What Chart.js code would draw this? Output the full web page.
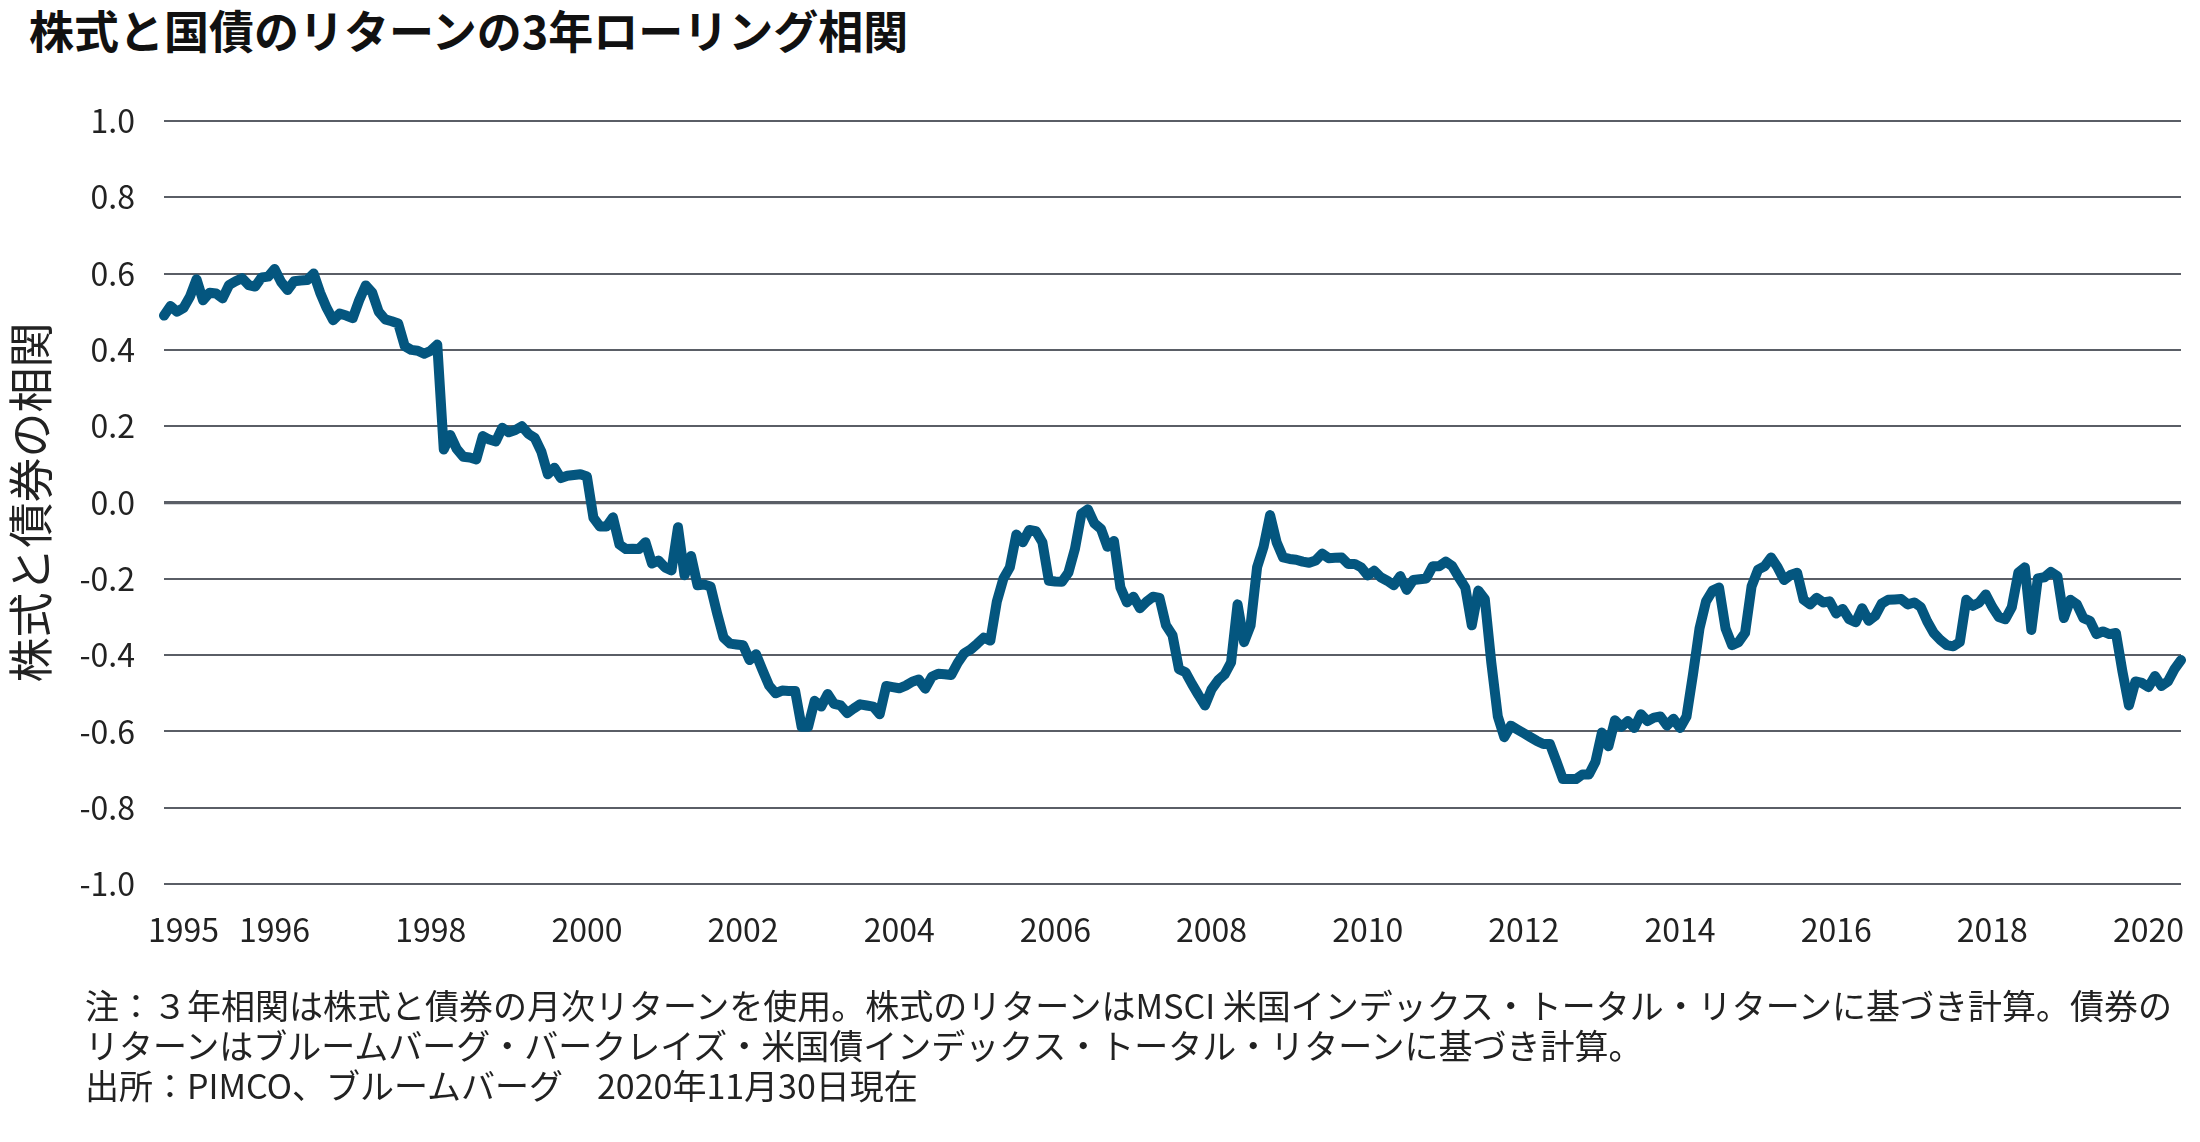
<!DOCTYPE html>
<html lang="ja">
<head>
<meta charset="utf-8">
<title>株式と国債のリターンの3年ローリング相関</title>
<script src="https://cdn.jsdelivr.net/npm/chart.js@4.4.1/dist/chart.umd.min.js"></script>
<style>
  html, body { margin: 0; padding: 0; background: #fff; }
  body { width: 2200px; height: 1142px; position: relative; overflow: hidden; font-family: "Noto Sans CJK JP", "Noto Sans", sans-serif; color: #222; }
  #title { position: absolute; left: 29px; top: 6px; font-size: 45px; font-weight: 700; line-height: 47px; color: #111; white-space: nowrap; }
  #wrap { position: absolute; left: 0; top: 0; width: 2200px; height: 1000px; }
  #notes { position: absolute; left: 85px; top: 985px; font-size: 34px; line-height: 40px; white-space: nowrap; color: #222; }
</style>
</head>
<body>
<div id="title">株式と国債のリターンの3年ローリング相関</div>
<div id="wrap"><canvas id="chart" width="2200" height="1000"></canvas></div>
<div id="notes">
  <div>注：３年相関は株式と債券の月次リターンを使用。株式のリターンはMSCI 米国インデックス・トータル・リターンに基づき計算。債券の</div>
  <div>リターンはブルームバーグ・バークレイズ・米国債インデックス・トータル・リターンに基づき計算。</div>
  <div>出所：PIMCO、ブルームバーグ　2020年11月30日現在</div>
</div>
<script>
// 3年ローリング相関（月次、1995年1月〜2020年11月）
const startYear = 1995;
const tickYears = ['1995','1996','1998','2000','2002','2004','2006','2008','2010','2012','2014','2016','2018','2020'];
const yTitle = '株式と債券の相関';

const corr = [
  // 1995
  0.49, 0.515, 0.50, 0.51, 0.54, 0.585, 0.53, 0.55, 0.548, 0.535, 0.57, 0.58,
  // 1996
  0.588, 0.57, 0.566, 0.59, 0.592, 0.612, 0.578, 0.557, 0.58, 0.582, 0.583, 0.60,
  // 1997
  0.55, 0.51, 0.478, 0.495, 0.49, 0.483, 0.53, 0.569, 0.55, 0.50, 0.48, 0.475,
  // 1998
  0.469, 0.41, 0.40, 0.398, 0.39, 0.398, 0.414, 0.139, 0.177, 0.14, 0.12, 0.118,
  // 1999
  0.113, 0.174, 0.165, 0.16, 0.196, 0.184, 0.19, 0.2, 0.18, 0.169, 0.133, 0.074,
  // 2000
  0.091, 0.064, 0.07, 0.072, 0.074, 0.068, -0.04, -0.063, -0.063, -0.039, -0.11, -0.122,
  // 2001
  -0.121, -0.122, -0.104, -0.16, -0.152, -0.17, -0.178, -0.065, -0.191, -0.14, -0.217, -0.215,
  // 2002
  -0.22, -0.29, -0.354, -0.37, -0.372, -0.374, -0.413, -0.398, -0.44, -0.48, -0.50, -0.493,
  // 2003
  -0.494, -0.494, -0.588, -0.588, -0.52, -0.535, -0.502, -0.528, -0.532, -0.552, -0.54, -0.529,
  // 2004
  -0.532, -0.535, -0.555, -0.481, -0.484, -0.487, -0.48, -0.47, -0.464, -0.488, -0.457, -0.449,
  // 2005
  -0.45, -0.452, -0.42, -0.395, -0.385, -0.37, -0.354, -0.362, -0.26, -0.20, -0.17, -0.084,
  // 2006
  -0.104, -0.072, -0.075, -0.104, -0.205, -0.207, -0.208, -0.184, -0.122, -0.03, -0.018, -0.055,
  // 2007
  -0.069, -0.116, -0.101, -0.223, -0.262, -0.247, -0.277, -0.26, -0.247, -0.25, -0.322, -0.348,
  // 2008
  -0.437, -0.445, -0.476, -0.505, -0.532, -0.49, -0.466, -0.451, -0.419, -0.267, -0.366, -0.322,
  // 2009
  -0.17, -0.116, -0.033, -0.104, -0.144, -0.148, -0.15, -0.155, -0.158, -0.152, -0.134, -0.146,
  // 2010
  -0.145, -0.144, -0.161, -0.161, -0.17, -0.191, -0.179, -0.196, -0.205, -0.217, -0.193, -0.229,
  // 2011
  -0.203, -0.201, -0.199, -0.167, -0.167, -0.155, -0.167, -0.196, -0.223, -0.322, -0.231, -0.253,
  // 2012
  -0.42, -0.561, -0.615, -0.585, -0.595, -0.605, -0.615, -0.625, -0.633, -0.633, -0.678, -0.725,
  // 2013
  -0.725, -0.725, -0.713, -0.713, -0.68, -0.603, -0.639, -0.571, -0.588, -0.573, -0.591, -0.555,
  // 2014
  -0.573, -0.564, -0.561, -0.585, -0.567, -0.591, -0.561, -0.45, -0.33, -0.259, -0.231, -0.223,
  // 2015
  -0.33, -0.374, -0.366, -0.342, -0.22, -0.176, -0.167, -0.144, -0.17, -0.203, -0.19, -0.184,
  // 2016
  -0.255, -0.267, -0.25, -0.262, -0.259, -0.291, -0.279, -0.306, -0.314, -0.277, -0.31, -0.297,
  // 2017
  -0.265, -0.255, -0.254, -0.253, -0.267, -0.262, -0.274, -0.312, -0.342, -0.36, -0.374, -0.377,
  // 2018
  -0.366, -0.255, -0.271, -0.262, -0.241, -0.274, -0.30, -0.306, -0.274, -0.184, -0.17, -0.334,
  // 2019
  -0.199, -0.196, -0.182, -0.193, -0.303, -0.255, -0.267, -0.303, -0.31, -0.345, -0.338, -0.345,
  // 2020 (〜11月)
  -0.342, -0.443, -0.532, -0.469, -0.473, -0.484, -0.455, -0.481, -0.469, -0.437, -0.413
];

// 月ラベル（YYYY-MM）
const months = corr.map((_, i) => (startYear + Math.floor(i / 12)) + '-' + String(i % 12 + 1).padStart(2, '0'));

const FONT = '"Noto Sans CJK JP", "Noto Sans", sans-serif';
const GRID = '#5a5e66';

function yearTick(label) {
  const [y, m] = label.split('-');
  if (!tickYears.includes(y)) return '';
  // 1995 は左端に寄せて表示、他は年の中ほど
  const want = y === '1995' ? '04' : '06';
  return m === want ? y : '';
}

new Chart(document.getElementById('chart'), {
  type: 'line',
  data: {
    labels: months,
    datasets: [{
      data: corr,
      borderColor: '#04567f',
      borderWidth: 10,
      borderJoinStyle: 'round',
      borderCapStyle: 'round',
      pointRadius: 0,
      tension: 0,
      fill: false
    }]
  },
  options: {
    responsive: false,
    animation: false,
    devicePixelRatio: 1,
    layout: { padding: { top: 121, right: 0, left: 0, bottom: 0 } },
    plugins: { legend: { display: false }, tooltip: { enabled: false } },
    scales: {
      x: {
        type: 'category',
        offset: false,
        grid: { display: false },
        border: { display: false },
        ticks: {
          autoSkip: false, maxRotation: 0, minRotation: 0,
          padding: 19, color: '#222',
          font: { family: FONT, size: 32 },
          callback(v) { return yearTick(this.getLabelForValue(v)); }
        },
        afterFit(s) { s.height = 116; }
      },
      y: {
        min: -1, max: 1,
        border: { display: false },
        grid: {
          color: GRID,
          drawTicks: false,
          lineWidth: ctx => (ctx.tick && Math.abs(ctx.tick.value) < 1e-9 ? 3.2 : 2)
        },
        ticks: {
          stepSize: 0.2, padding: 29, color: '#222',
          font: { family: FONT, size: 32 },
          callback: v => (Math.abs(v) < 1e-9 ? '0.0' : v.toFixed(1))
        },
        title: {
          display: true, text: yTitle, color: '#222',
          font: { family: FONT, size: 45 },
          padding: { top: 4, bottom: 0 }
        },
        afterFit(s) { s.width = 164; }
      }
    }
  }
});
</script>
</body>
</html>
